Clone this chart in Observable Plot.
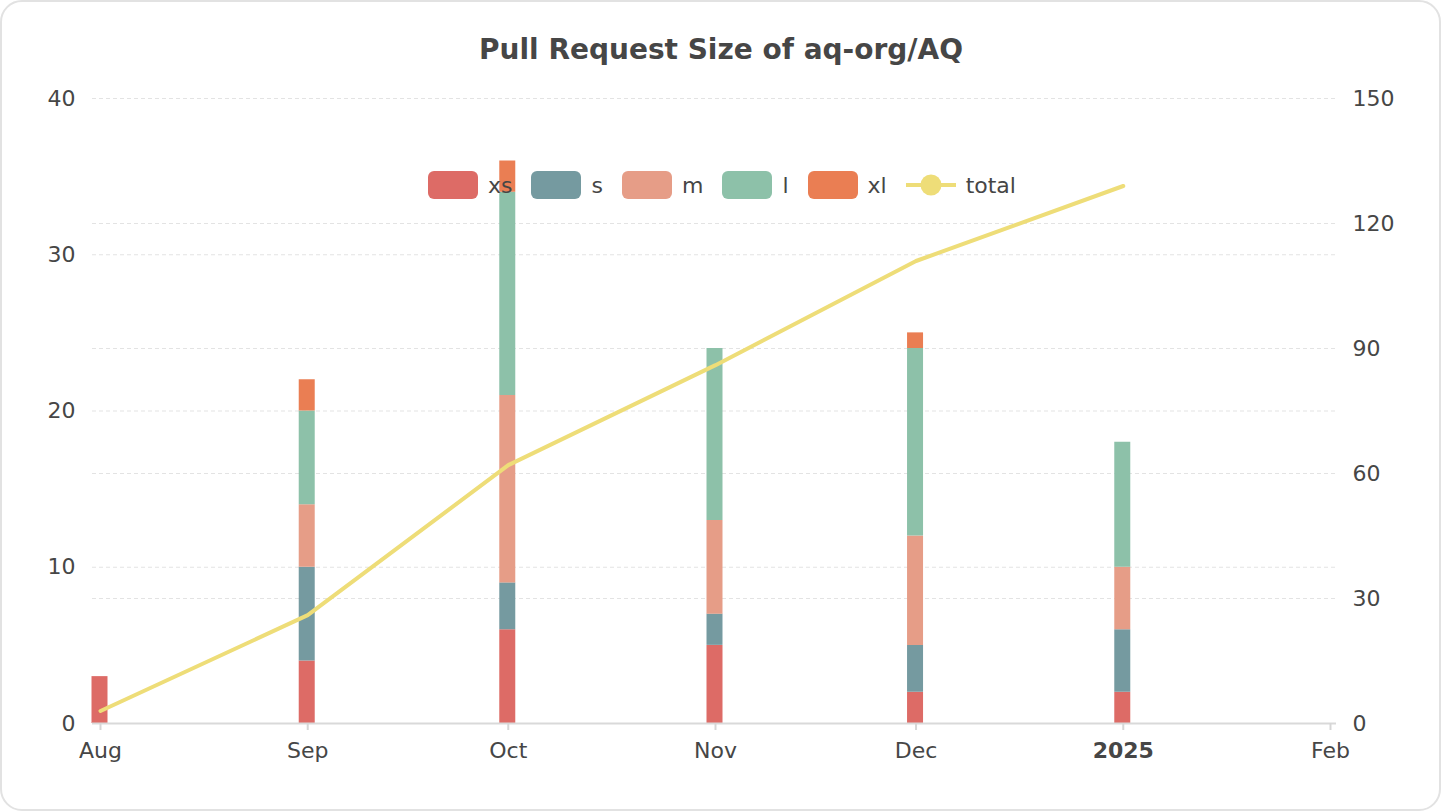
<!DOCTYPE html>
<html>
<head>
<meta charset="utf-8">
<script src="https://cdn.jsdelivr.net/npm/d3@7"></script>
<script src="https://cdn.jsdelivr.net/npm/@observablehq/plot@0.6"></script>
<style>
  html, body { margin: 0; padding: 0; background: #fff; width: 1442px; height: 812px; overflow: hidden; font-family: "DejaVu Sans", sans-serif; }
  #card { position: absolute; left: 0; top: 0; width: 1441px; height: 811px; box-sizing: border-box; border: 2px solid #e2e2e2; border-radius: 22px; }
  #title { position: absolute; left: 0; width: 1442px; top: 33px; line-height: 34px; text-align: center; font-weight: bold; font-size: 28px; color: #464646; }
  #chart { position: absolute; left: 0; top: 78px; }
  #legend { position: absolute; left: 428px; top: 171px; height: 28px; display: flex; align-items: center; font-size: 22px; color: #464646; }
  .item { display: flex; align-items: center; margin-right: 19px; height: 28px; }
  .sw { width: 50px; height: 28px; border-radius: 6px; }
  .lab { margin-left: 10px; }
</style>
</head>
<body>
<div id="card"></div>
<div id="title">Pull Request Size of aq-org/AQ</div>
<div id="chart"></div>
<div id="legend"></div>
<script>
// ---- data ----
const months = ["2024-08-01", "2024-09-01", "2024-10-01", "2024-11-01", "2024-12-01", "2025-01-01"];
const sizes = ["xs", "s", "m", "l", "xl"];
const xsVals = [3, 4, 6, 5, 2, 2];
const sVals  = [0, 6, 3, 2, 3, 4];
const mVals  = [0, 4, 12, 6, 7, 4];
const lVals  = [0, 6, 13, 11, 12, 8];
const xlVals = [0, 2, 2, 0, 1, 0];
const totalVals = [3, 26, 62, 86, 111, 129];
const colors = ["#dd6b66", "#759aa0", "#e69d87", "#8dc1a9", "#ea7e53"];
const totalColor = "#eedd78";
const leftTicks = [0, 10, 20, 30, 40];
const rightTicks = [0, 30, 60, 90, 120, 150];
const tickDates = ["2024-08-01", "2024-09-01", "2024-10-01", "2024-11-01", "2024-12-01", "2025-01-01", "2025-02-01"];
const tickLabels = ["Aug", "Sep", "Oct", "Nov", "Dec", "2025", "Feb"];
const boldLabels = ["2025"];

// ---- build ----
const series = [xsVals, sVals, mVals, lVals, xlVals];
const rows = months.flatMap((mo, i) => sizes.map((k, j) => ({date: new Date(mo), size: k, value: series[j][i]})));
const lineRows = months.map((mo, i) => ({date: new Date(mo), total: totalVals[i]}));
const leftMax = 40, rightMax = 150;
const toLeft = v => v * leftMax / rightMax;
const tdates = tickDates.map(d => new Date(d));
const labelOf = d => tickLabels[tdates.findIndex(t => +t === +d)];
const normalTicks = tdates.filter((d, i) => !boldLabels.includes(tickLabels[i]));
const boldTicks = tdates.filter((d, i) => boldLabels.includes(tickLabels[i]));
const gridVals = [...leftTicks.filter(v => v > 0), ...rightTicks.filter(v => v > 0).map(toLeft)];

const chart = Plot.plot({
  width: 1420,
  height: 715,
  marginLeft: 92,
  marginRight: 84,
  marginTop: 20,
  marginBottom: 70,
  style: {fontFamily: "DejaVu Sans", fontSize: "22px", color: "#464646", background: "transparent"},
  x: {type: "utc", domain: [tdates[0], tdates[tdates.length - 1]], range: [100, 1330]},
  y: {domain: [0, leftMax]},
  color: {domain: sizes, range: colors},
  marks: [
    Plot.ruleY(gridVals, {y: d => d, stroke: "#e3e3e3", strokeWidth: 1, strokeDasharray: "4,3"}),
    Plot.ruleX(rows.filter(r => r.value > 0), Plot.stackY({x: "date", y: "value", stroke: "size", strokeWidth: 16, dx: -1, order: null})),
    Plot.ruleY([0], {stroke: "#d9d9d9", strokeWidth: 2}),
    Plot.line(lineRows, {x: "date", y: d => toLeft(d.total), stroke: totalColor, strokeWidth: 4}),
    Plot.axisY({anchor: "left", ticks: leftTicks, tickSize: 0, tickPadding: 17, label: null, fill: "#464646"}),
    Plot.axisY({anchor: "right", ticks: rightTicks.map(toLeft), tickFormat: d => String(Math.round(d * rightMax / leftMax)), tickSize: 0, tickPadding: 16, label: null, fill: "#464646"}),
    Plot.axisX({ticks: tdates, tickSize: 7, tickFormat: () => "", stroke: "#d6d6d6", strokeWidth: 2, label: null}),
    Plot.axisX({ticks: normalTicks, tickSize: 0, tickPadding: 19, tickFormat: labelOf, label: null, fill: "#464646"}),
    Plot.axisX({ticks: boldTicks, tickSize: 0, tickPadding: 19, tickFormat: labelOf, label: null, fill: "#464646", fontWeight: "bold"})
  ]
});
document.getElementById("chart").appendChild(chart);

// legend
const legend = document.getElementById("legend");
sizes.forEach((k, i) => {
  const it = document.createElement("div");
  it.className = "item";
  it.innerHTML = `<div class="sw" style="background:${colors[i]}"></div><span class="lab">${k}</span>`;
  legend.appendChild(it);
});
const it = document.createElement("div");
it.className = "item";
it.innerHTML = `<svg width="50" height="28"><line x1="0" x2="50" y1="14" y2="14" stroke="${totalColor}" stroke-width="4"/><circle cx="25" cy="14" r="10.5" fill="${totalColor}"/></svg><span class="lab">total</span>`;
legend.appendChild(it);
</script>
</body>
</html>
